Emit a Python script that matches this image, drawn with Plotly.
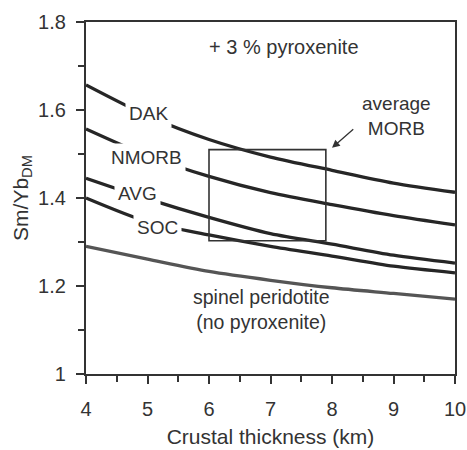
import plotly.graph_objects as go

thickness = [4, 5, 6, 7, 8, 9, 10]
dak = [1.657, 1.587, 1.533, 1.493, 1.463, 1.434, 1.413]
nmorb = [1.557, 1.496, 1.449, 1.412, 1.385, 1.360, 1.339]
avg = [1.445, 1.398, 1.356, 1.319, 1.295, 1.270, 1.252]
soc = [1.400, 1.346, 1.316, 1.290, 1.268, 1.245, 1.230]
spinel = [1.290, 1.261, 1.233, 1.213, 1.196, 1.183, 1.170]

series = [("DAK", dak, "#262626"), ("NMORB", nmorb, "#262626"),
          ("AVG", avg, "#262626"), ("SOC", soc, "#262626"),
          ("spinel", spinel, "#555555")]

label_names = ["DAK", "NMORB", "AVG", "SOC"]
label_x = [5.01, 4.98, 4.83, 5.17]
label_y = [1.592, 1.493, 1.411, 1.332]

box_x = [6.0, 7.9]
box_y = [1.303, 1.51]
arrow_head = [8.0, 1.514]
arrow_tail = [8.37, 1.559]

FONT = "Arial, Liberation Sans, sans-serif"
TXT = "#333333"

fig = go.Figure()
for name, vals, col in series:
    fig.add_trace(go.Scatter(x=thickness, y=vals, mode="lines", name=name,
                             line=dict(color=col, width=3.3, shape="spline", smoothing=0.8),
                             showlegend=False, hoverinfo="skip"))

fig.add_shape(type="rect", x0=box_x[0], x1=box_x[1], y0=box_y[0], y1=box_y[1],
              line=dict(color="#333333", width=1.6))

for n, lx, ly in zip(label_names, label_x, label_y):
    fig.add_annotation(x=lx, y=ly, text=n, showarrow=False, bgcolor="white",
                       borderpad=3, font=dict(family=FONT, size=19, color=TXT))

fig.add_annotation(x=7.22, y=1.743, text="+ 3 % pyroxenite", showarrow=False,
                   font=dict(family=FONT, size=20, color=TXT))
fig.add_annotation(x=9.05, y=1.586, text="average<br>MORB", showarrow=False,
                   font=dict(family=FONT, size=19, color=TXT))
fig.add_annotation(x=6.85, y=1.146, text="spinel peridotite<br>(no pyroxenite)", showarrow=False,
                   font=dict(family=FONT, size=19.5, color=TXT))
fig.add_annotation(x=arrow_head[0], y=arrow_head[1], ax=arrow_tail[0], ay=arrow_tail[1],
                   axref="x", ayref="y", text="", showarrow=True, arrowhead=2,
                   arrowsize=1.2, arrowwidth=1.3, arrowcolor="#333333")

axis_common = dict(showline=True, linecolor="#333333", linewidth=2.2, mirror=True,
                   ticks="outside", tickcolor="#333333", tickwidth=1.6, ticklen=8,
                   showgrid=False, zeroline=False, automargin=False,
                   tickfont=dict(family=FONT, size=20, color=TXT))

fig.update_xaxes(range=[4, 10], dtick=1, ticklabelstandoff=8,
                 minor=dict(dtick=0.5, ticks="outside", ticklen=6, tickcolor="#333333", tickwidth=1.6),
                 title=dict(text="Crustal thickness (km)", font=dict(family=FONT, size=21, color=TXT), standoff=10),
                 **axis_common)
fig.update_yaxes(range=[1, 1.8], dtick=0.2, tickformat="~g", ticklabelstandoff=6,
                 minor=dict(dtick=0.1, ticks="outside", ticklen=6, tickcolor="#333333", tickwidth=1.6),
                 title=dict(text="Sm/Yb<sub>DM</sub>", font=dict(family=FONT, size=21, color=TXT), standoff=4),
                 **axis_common)

fig.update_layout(width=467, height=450, margin=dict(l=86, r=12, t=22, b=76),
                  plot_bgcolor="white", paper_bgcolor="white")

fig.write_html("out.html")
